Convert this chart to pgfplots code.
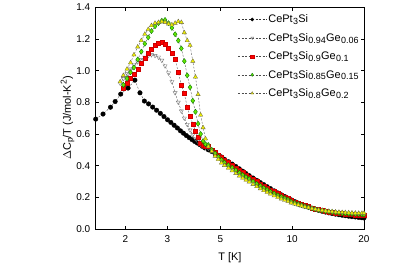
\documentclass[border=0pt]{standalone}
\usepackage{fontspec}
\setmainfont{Liberation Sans}
\usepackage{pgfplots}
\pgfplotsset{compat=1.18}
\definecolor{ygreen}{RGB}{102,230,0}
\definecolor{yfill}{RGB}{240,240,0}
\newcommand\sub[1]{\kern0.3bp\raisebox{-0.32ex}{\fontsize{9}{9}\selectfont #1}\kern0.3bp}
\newcommand\lsub[1]{\raisebox{-0.32ex}{\fontsize{8.5}{9}\selectfont #1}}
\newcommand\sups[1]{\raisebox{0.75ex}{\fontsize{8.5}{9}\selectfont #1}}
\begin{document}
\begin{tikzpicture}[x=1bp,y=1bp]
\path[use as bounding box] (-95.7,-44) rectangle (313.3,229);
\begin{axis}[
  at={(0,0)}, anchor=south west,
  scale only axis, width=268.3bp, height=221.7bp,
  xmode=log, xmin=1.5, xmax=20, ymin=0, ymax=1.4,
  xtick={2,3,5,10,20}, xticklabels={2,3,5,10,20}, minor xtick={},
  ytick={0,0.2,...,1.4},
  yticklabel style={/pgf/number format/fixed,/pgf/number format/fixed zerofill,/pgf/number format/precision=1,xshift=-2bp},
  /pgf/number format/assume math mode=true,
  tick label style={font=\fontsize{10}{11}\selectfont},
  xticklabel style={yshift=-3bp},
  tick style={black, line width=0.4pt},
  major tick length=3.5bp,
  axis line style={line width=0.8pt},
  xlabel={T [K]},
  ylabel={$\Delta$C\lsub{p}/T (J/mol-K\sups{2})},
  label style={font=\fontsize{11}{12}\selectfont},
  xlabel style={yshift=-3bp},
  ylabel style={yshift=-5bp},
  legend style={draw=none, fill=none, at={(1.0,0.985)}, anchor=north east,
    font=\fontsize{11}{12}\selectfont, row sep=5bp},
  legend cell align=left,
  legend image code/.code={\draw[mark repeat=2,mark phase=2,#1,mark size=1.6bp] plot coordinates {(0bp,0bp) (14bp,0bp) (28bp,0bp)};},
  every axis plot/.append style={line width=0.35pt, dash pattern=on 2pt off 1.5pt},
]
\addplot[black!80, mark=*, mark size=2.3, mark options={solid, fill=black, draw=black}] coordinates {
(1.50,0.694)(1.61,0.726)(1.73,0.769)(1.81,0.805)(1.91,0.852)(2.05,0.89)(2.19,0.94)(2.30,0.86)(2.40,0.808)(2.50,0.79)(2.60,0.77)(2.70,0.75)(2.80,0.73)(2.90,0.71)(3.00,0.69)(3.10,0.673)(3.20,0.655)(3.30,0.638)(3.40,0.62)(3.50,0.605)(3.60,0.59)(3.70,0.577)(3.80,0.565)(3.90,0.553)(4.00,0.543)(4.10,0.533)(4.20,0.522)(4.30,0.512)(4.45,0.50)
(4.6,0.49)(4.75,0.475)(4.9,0.465)(5.05,0.455)(5.2,0.44)(5.4,0.425)(5.6,0.41)(5.8,0.395)(6.0,0.38)(6.2,0.365)(6.4,0.35)(6.6,0.337)(6.85,0.322)(7.1,0.307)(7.35,0.293)(7.6,0.28)(7.85,0.267)(8.1,0.255)(8.4,0.241)(8.7,0.228)(9.0,0.216)(9.3,0.205)(9.6,0.194)(9.9,0.184)(10.25,0.173)(10.6,0.163)(10.95,0.154)(11.3,0.146)(11.7,0.138)(12.1,0.131)(12.5,0.124)(12.9,0.118)(13.35,0.112)(13.8,0.107)(14.25,0.102)(14.7,0.098)(15.2,0.094)(15.7,0.09)(16.2,0.087)(16.7,0.084)(17.25,0.081)(17.8,0.078)(18.4,0.076)(19.0,0.073)(19.6,0.071)(20.0,0.07)
};
\addlegendentry{CePt\sub{3}Si}
\addplot[black!70, mark=triangle, mark size=2.4, mark options={solid, rotate=180, fill=white, draw=black!55}] coordinates {
(1.90,0.92)(1.96,0.95)(2.03,0.98)(2.10,1.01)(2.17,1.035)(2.25,1.055)(2.33,1.07)(2.41,1.085)(2.49,1.095)(2.57,1.10)(2.66,1.095)(2.75,1.085)(2.84,1.065)(2.93,1.03)(3.03,0.985)(3.13,0.93)(3.23,0.86)(3.33,0.80)(3.43,0.745)(3.53,0.70)(3.63,0.66)(3.73,0.625)(3.83,0.595)(3.93,0.57)(4.03,0.55)(4.13,0.535)(4.23,0.52)(4.33,0.515)(4.45,0.51)
(4.6,0.495)(4.75,0.472)(4.9,0.451)(5.05,0.431)(5.2,0.415)(5.4,0.398)(5.6,0.382)(5.8,0.366)(6.0,0.35)(6.2,0.336)(6.4,0.323)(6.6,0.311)(6.85,0.295)(7.1,0.281)(7.35,0.268)(7.6,0.255)(7.85,0.243)(8.1,0.232)(8.4,0.22)(8.7,0.21)(9.0,0.2)(9.3,0.191)(9.6,0.182)(9.9,0.171)(10.25,0.163)(10.6,0.156)(10.95,0.149)(11.3,0.143)(11.7,0.137)(12.1,0.13)(12.5,0.125)(12.9,0.121)(13.35,0.117)(13.8,0.113)(14.25,0.11)(14.7,0.107)(15.2,0.104)(15.7,0.102)(16.2,0.1)(16.7,0.099)(17.25,0.097)(17.8,0.096)(18.4,0.095)(19.0,0.094)(19.6,0.093)(20.0,0.093)
};
\addlegendentry{CePt\sub{3}Si\sub{0.94}Ge\sub{0.06}}
\addplot[black!70, mark=square*, mark size=2.0, mark options={solid, fill=red, draw=red!80!black}] coordinates {
(1.96,0.89)(2.03,0.92)(2.10,0.95)(2.17,0.98)(2.25,1.01)(2.33,1.045)(2.41,1.08)(2.49,1.11)(2.57,1.135)(2.66,1.16)(2.75,1.175)(2.84,1.18)(2.93,1.165)(3.03,1.14)(3.13,1.11)(3.23,1.07)(3.33,0.99)(3.43,0.91)(3.53,0.855)(3.63,0.77)(3.73,0.71)(3.83,0.665)(3.93,0.615)(4.03,0.58)(4.13,0.545)(4.23,0.53)(4.33,0.525)(4.45,0.52)
(4.6,0.50)(4.75,0.483)(4.9,0.466)(5.05,0.451)(5.2,0.437)(5.4,0.419)(5.6,0.402)(5.8,0.386)(6.0,0.37)(6.2,0.356)(6.4,0.343)(6.6,0.33)(6.85,0.315)(7.1,0.299)(7.35,0.285)(7.6,0.272)(7.85,0.26)(8.1,0.248)(8.4,0.236)(8.7,0.224)(9.0,0.213)(9.3,0.203)(9.6,0.193)(9.9,0.181)(10.25,0.172)(10.6,0.164)(10.95,0.156)(11.3,0.149)(11.7,0.142)(12.1,0.134)(12.5,0.128)(12.9,0.123)(13.35,0.118)(13.8,0.113)(14.25,0.109)(14.7,0.105)(15.2,0.102)(15.7,0.099)(16.2,0.097)(16.7,0.095)(17.25,0.093)(17.8,0.091)(18.4,0.089)(19.0,0.087)(19.6,0.086)(20.0,0.085)
};
\addlegendentry{CePt\sub{3}Si\sub{0.9}Ge\sub{0.1}}
\addplot[black!70, mark=diamond*, mark size=2.6, mark options={solid, fill=ygreen, draw=green!45!black}] coordinates {
(1.96,0.91)(2.03,0.95)(2.10,0.99)(2.17,1.02)(2.25,1.07)(2.33,1.12)(2.41,1.17)(2.49,1.21)(2.57,1.25)(2.66,1.28)(2.75,1.30)(2.84,1.315)(2.93,1.32)(3.03,1.30)(3.13,1.27)(3.23,1.23)(3.33,1.19)(3.43,1.14)(3.53,1.06)(3.63,0.97)(3.73,0.895)(3.83,0.81)(3.93,0.74)(4.03,0.665)(4.13,0.60)(4.23,0.555)(4.33,0.535)(4.45,0.53)
(4.6,0.50)(4.75,0.477)(4.9,0.456)(5.05,0.436)(5.2,0.42)(5.4,0.403)(5.6,0.387)(5.8,0.371)(6.0,0.355)(6.2,0.341)(6.4,0.328)(6.6,0.316)(6.85,0.3)(7.1,0.285)(7.35,0.272)(7.6,0.259)(7.85,0.247)(8.1,0.236)(8.4,0.224)(8.7,0.213)(9.0,0.203)(9.3,0.194)(9.6,0.185)(9.9,0.173)(10.25,0.165)(10.6,0.158)(10.95,0.151)(11.3,0.144)(11.7,0.138)(12.1,0.131)(12.5,0.126)(12.9,0.121)(13.35,0.117)(13.8,0.113)(14.25,0.11)(14.7,0.107)(15.2,0.104)(15.7,0.102)(16.2,0.1)(16.7,0.099)(17.25,0.097)(17.8,0.096)(18.4,0.095)(19.0,0.094)(19.6,0.093)(20.0,0.092)
};
\addlegendentry{CePt\sub{3}Si\sub{0.85}Ge\sub{0.15}}
\addplot[black!70, mark=triangle*, mark size=2.5, mark options={solid, fill=yfill, draw=black!50!yellow!70!black}] coordinates {
(1.90,0.93)(1.96,0.97)(2.03,1.01)(2.10,1.05)(2.17,1.10)(2.25,1.15)(2.33,1.19)(2.41,1.23)(2.49,1.26)(2.57,1.285)(2.66,1.30)(2.75,1.305)(2.84,1.31)(2.93,1.305)(3.03,1.295)(3.13,1.29)(3.23,1.30)(3.33,1.31)(3.43,1.305)(3.53,1.24)(3.63,1.19)(3.73,1.16)(3.83,1.06)(3.93,0.96)(4.03,0.85)(4.13,0.72)(4.23,0.64)(4.33,0.57)(4.45,0.52)
(4.6,0.49)(4.75,0.46)(4.9,0.44)(5.05,0.417)(5.2,0.402)(5.4,0.385)(5.6,0.368)(5.8,0.351)(6.0,0.335)(6.2,0.322)(6.4,0.309)(6.6,0.297)(6.85,0.282)(7.1,0.268)(7.35,0.255)(7.6,0.243)(7.85,0.232)(8.1,0.221)(8.4,0.21)(8.7,0.2)(9.0,0.19)(9.3,0.182)(9.6,0.174)(9.9,0.165)(10.25,0.158)(10.6,0.152)(10.95,0.146)(11.3,0.14)(11.7,0.135)(12.1,0.129)(12.5,0.125)(12.9,0.121)(13.35,0.118)(13.8,0.115)(14.25,0.112)(14.7,0.11)(15.2,0.108)(15.7,0.106)(16.2,0.105)(16.7,0.104)(17.25,0.103)(17.8,0.102)(18.4,0.101)(19.0,0.1)(19.6,0.1)(20.0,0.1)
};
\addlegendentry{CePt\sub{3}Si\sub{0.8}Ge\sub{0.2}}
\end{axis}
\end{tikzpicture}
\end{document}
